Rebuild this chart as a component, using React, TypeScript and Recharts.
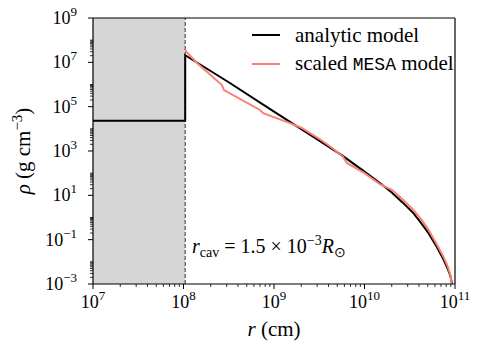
import React from "react"
import {
  ComposedChart,
  Line,
  XAxis,
  YAxis,
  ReferenceArea,
  ReferenceLine,
  Label,
} from "recharts"

// cavity radius: 1.5e-3 Rsun in cm
const cavityRadius = 1.044e8

// analytic density profile (r in cm, rho in g/cm^3)
const analyticR = [1e7, 1.044e8, 1.044e8, 3.16e8, 1e9, 3.16e9, 5.75e9, 1e10, 1.48e10, 2e10, 2.63e10, 3.47e10, 4.17e10, 5e10, 6.3e10, 7.4e10, 8.3e10, 8.9e10, 9.27e10]
const analyticRho = [2.3e4, 2.3e4, 2.1e7, 1.26e6, 6.0e4, 2.95e3, 6.0e2, 1.17e2, 36, 13.5, 4.8, 1.58, 0.6, 0.22, 0.047, 0.0138, 4.9e-3, 2.3e-3, 1e-3]

// scaled MESA profile
const mesaR = [1.044e8, 1.41e8, 2.66e8, 2.8e8, 7e8, 7.6e8, 1.5e9, 2e9, 3.16e9, 4.47e9, 5.8e9, 6.4e9, 1e10, 1.48e10, 2e10, 2.63e10, 3.47e10, 4.17e10, 5e10, 6.3e10, 7.4e10, 8.3e10, 8.9e10, 9.2e10]
const mesaRho = [3.4e7, 9.3e6, 9.5e5, 5.6e5, 7.1e4, 5.1e4, 1.8e4, 1.12e4, 3.55e3, 1.3e3, 5.4e2, 2.9e2, 100, 32, 17.8, 6.6, 2.2, 0.89, 0.32, 0.06, 0.018, 6.3e-3, 2.5e-3, 1e-3]

const xMajor = [1e7, 1e8, 1e9, 1e10, 1e11]
const yLabelled = [1e-3, 1e-1, 1e1, 1e3, 1e5, 1e7, 1e9]

const analyticData = analyticR.map((r, i) => ({ r, rho: analyticRho[i] }))
const mesaData = mesaR.map((r, i) => ({ r, rho: mesaRho[i] }))

// minor ticks: 2..9 in every x decade
const xTicks: number[] = []
for (let e = 7; e <= 10; e++) {
  for (let m = 1; m <= 9; m++) xTicks.push(m * Math.pow(10, e))
}
xTicks.push(1e11)

// y: labels every two decades, minor ticks in the decade above each label
const yTicks: number[] = []
for (let e = -3; e <= 7; e += 2) {
  for (let m = 1; m <= 9; m++) yTicks.push(m * Math.pow(10, e))
  yTicks.push(Math.pow(10, e + 1))
}
yTicks.push(1e9)

const serif = "Liberation Serif"

const isMajor = (v: number, list: number[]) => list.some((t) => Math.abs(t - v) / t < 1e-6)
const expText = (v: number) => {
  const e = Math.round(Math.log10(v))
  return e < 0 ? `\u2212${-e}` : `${e}`
}

const XTick = ({ x, y, payload }: any) => {
  const v = payload.value
  const major = isMajor(v, xMajor)
  return (
    <g>
      <line x1={x} x2={x} y1={y} y2={y + (major ? 5 : 3)} stroke="#000" strokeWidth={major ? 1 : 0.8} />
      {major && (
        <text x={x} y={y + 24} textAnchor="middle" fontSize={18} fontFamily={serif} fill="#000">
          10<tspan dy={-8} fontSize={13}>{expText(v)}</tspan>
        </text>
      )}
    </g>
  )
}

const YTick = ({ x, y, payload }: any) => {
  const v = payload.value
  const major = isMajor(v, yLabelled)
  return (
    <g>
      <line x1={x} x2={x - (major ? 5 : 3)} y1={y} y2={y} stroke="#000" strokeWidth={major ? 1 : 0.8} />
      {major && (
        <text x={x - 16} y={y + 6} textAnchor="end" fontSize={18} fontFamily={serif} fill="#000">
          10<tspan dy={-8} fontSize={13}>{expText(v)}</tspan>
        </text>
      )}
    </g>
  )
}

const PlotLegend = () => (
  <div
    style={{
      position: "absolute",
      left: 252,
      top: 21,
      fontFamily: serif,
      fontSize: 21,
      color: "#000",
      lineHeight: "28px",
      whiteSpace: "nowrap",
    }}
  >
    <div style={{ display: "flex", alignItems: "center" }}>
      <svg width={43} height={28}>
        <line x1={0} x2={28} y1={14} y2={14} stroke="#000" strokeWidth={2} />
      </svg>
      <span>analytic model</span>
    </div>
    <div style={{ display: "flex", alignItems: "center" }}>
      <svg width={43} height={28}>
        <line x1={0} x2={28} y1={14} y2={14} stroke="#fa8072" strokeWidth={2} />
      </svg>
      <span>
        scaled <span style={{ fontFamily: "Liberation Mono", fontSize: 18 }}>MESA</span> model
      </span>
    </div>
  </div>
)

export default function App() {
  return (
    <div style={{ position: "absolute", left: 0, top: 0, width: 485, height: 354, background: "#fff" }}>
      <ComposedChart width={485} height={354} margin={{ top: 18, right: 30, left: 0, bottom: 0 }}>
        <XAxis
          dataKey="r"
          type="number"
          scale="log"
          domain={[1e7, 1e11]}
          allowDataOverflow
          ticks={xTicks}
          interval={0}
          tick={<XTick />}
          tickLine={false}
          tickSize={0}
          tickMargin={0}
          height={70}
          axisLine={{ stroke: "#000", strokeWidth: 1.2 }}
        >
          <Label
            content={() => (
              <text x={274} y={336} textAnchor="middle" fontSize={21} fontFamily={serif} fill="#000">
                <tspan fontStyle="italic">r</tspan> (cm)
              </text>
            )}
          />
        </XAxis>
        <YAxis
          dataKey="rho"
          type="number"
          scale="log"
          domain={[1e-3, 1e9]}
          allowDataOverflow
          ticks={yTicks}
          interval={0}
          tick={<YTick />}
          tickLine={false}
          tickSize={0}
          tickMargin={0}
          width={93}
          axisLine={{ stroke: "#000", strokeWidth: 1.2 }}
        >
          <Label
            content={() => (
              <text
                x={30}
                y={151}
                textAnchor="middle"
                fontSize={21}
                fontFamily={serif}
                fill="#000"
                transform="rotate(-90 30 151)"
              >
                <tspan fontStyle="italic">ρ</tspan> (g cm<tspan dy={-8} fontSize={15}>−3</tspan>
                <tspan dy={8}>)</tspan>
              </text>
            )}
          />
        </YAxis>
        <ReferenceArea
          x1={1e7}
          x2={cavityRadius}
          y1={1e-3}
          y2={1e9}
          fill="#d6d6d6"
          fillOpacity={1}
          stroke="none"
          ifOverflow="hidden"
        />
        <ReferenceLine x={cavityRadius} stroke="#333" strokeWidth={1} strokeDasharray="4 2">
          <Label
            content={() => (
              <text x={192} y={253} fontSize={20} fontFamily={serif} fill="#000">
                <tspan fontStyle="italic">r</tspan>
                <tspan dy={4} fontSize={14}>cav</tspan>
                <tspan dy={-4}> = 1.5 × 10</tspan>
                <tspan dy={-8} fontSize={14}>−3</tspan>
                <tspan dy={8} fontStyle="italic">R</tspan>
                <tspan dy={4} fontSize={14}>⊙</tspan>
              </text>
            )}
          />
        </ReferenceLine>
        <ReferenceLine y={1e9} stroke="#000" strokeWidth={1.2} />
        <ReferenceLine x={1e11} stroke="#000" strokeWidth={1.2} />
        <Line
          data={analyticData}
          dataKey="rho"
          type="linear"
          stroke="#000"
          strokeWidth={2}
          dot={false}
          isAnimationActive={false}
        />
        <Line
          data={mesaData}
          dataKey="rho"
          type="linear"
          stroke="#fa8072"
          strokeWidth={2}
          dot={false}
          isAnimationActive={false}
        />
      </ComposedChart>
      <PlotLegend />
    </div>
  )
}
